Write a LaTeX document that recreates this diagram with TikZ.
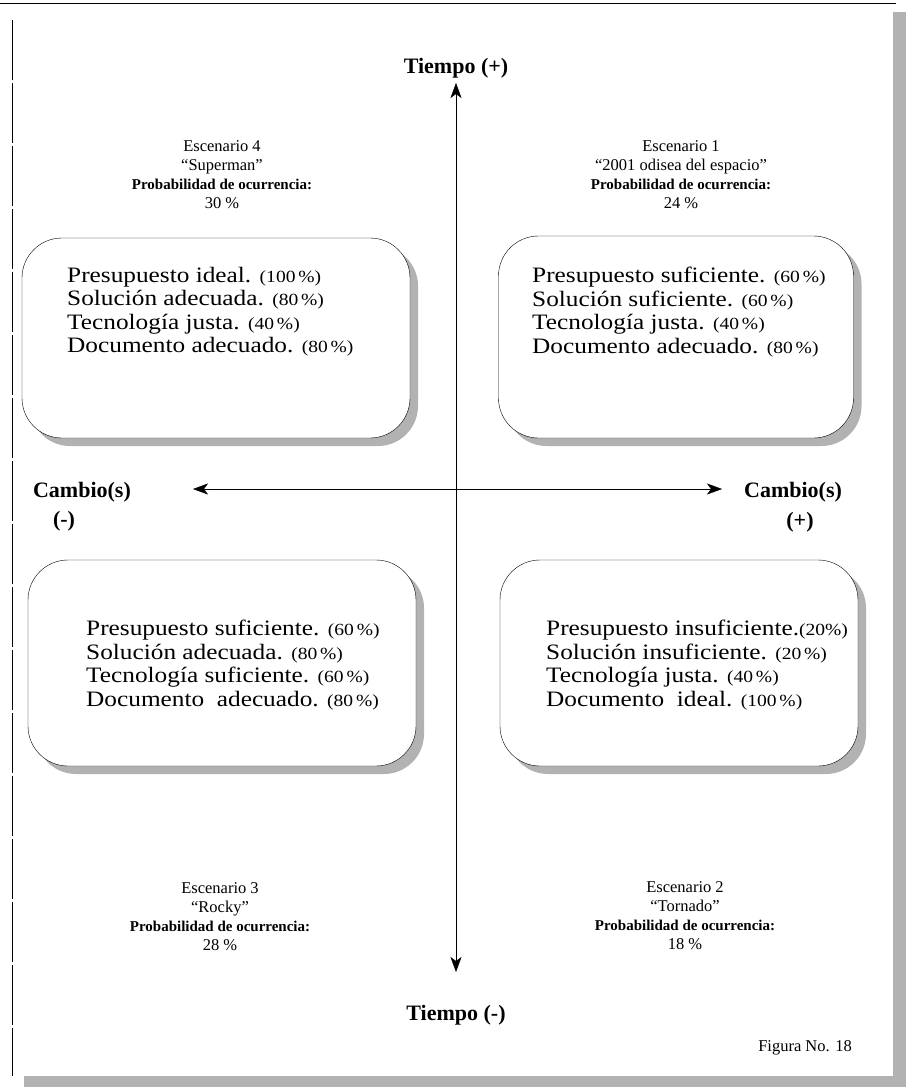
\documentclass[tikz,border=0pt]{standalone}
\usepackage{fontspec}
\setmainfont{Liberation Serif}
\newfontfamily\widefont[FakeStretch=1.15]{Liberation Serif}
\usetikzlibrary{positioning,arrows.meta,shadows}

\begin{document}
\begin{tikzpicture}[
  x=1pt, y=-1pt,
  scen/.style={draw, thin, rounded corners=40pt, fill=white,
    drop shadow={shadow xshift=8pt, shadow yshift=-8pt, fill=gray!60, opacity=1}},
  items/.style={anchor=north west, align=left, inner sep=0pt,
    font=\widefont\fontsize{22}{23.5}\selectfont},
  head/.style={align=center, inner sep=0pt, font=\fontsize{16.5}{19}\selectfont},
  axislbl/.style={inner sep=0pt, font=\fontsize{22}{26}\selectfont\bfseries},
  axis/.style={thin, {Stealth[length=15pt,width=11pt,inset=4pt]}-{Stealth[length=15pt,width=11pt,inset=4pt]}}
]
\newcommand{\pct}[1]{{\fontsize{17}{17}\selectfont(#1\,\%)}}
\newcommand{\prob}{{\bfseries\fontsize{15}{19}\selectfont Probabilidad de ocurrencia:}}

% page with its shadow
\useasboundingbox (0,0) rectangle (910,1090);
\fill[white] (0,0) rectangle (910,1090);
\fill[gray!60] (24,12) rectangle (906,1087);
\fill[white] (12,3) rectangle (893,1076);
\draw[thin] (0,3) -- (896,3);
\draw[very thin, dash pattern=on 60pt off 3pt] (12,20) -- (12,1076);

% axes
\node[axislbl] (tup) at (456,68) {Tiempo (+)};
\node[axislbl] (tdown) at (456,1015) {Tiempo (-)};
\node[axislbl] (cminus) at (82,492) {Cambio(s)};
\node[axislbl] (cminus2) at (64,521) {(-)};
\node[axislbl] (cplus) at (793,492) {Cambio(s)};
\node[axislbl] (cplus2) at (800,522) {(+)};
\coordinate (ytop) at (456,83);
\coordinate (ybot) at (456,972);
\coordinate (xleft) at (193,489);
\coordinate (xright) at (722,489);
\draw[axis] (ybot) -- (ytop);
\draw[axis] (xleft) -- (xright);

% scenario boxes
\node[scen, minimum width=388pt, minimum height=200pt] (s4) at (216,338) {};
\node[scen, minimum width=355pt, minimum height=202pt] (s1) at (676,337) {};
\node[scen, minimum width=388pt, minimum height=206pt] (s3) at (222,663) {};
\node[scen, minimum width=358pt, minimum height=206pt] (s2) at (679,663) {};

\node[items] (l4) at (67,267) {Presupuesto ideal. \pct{100}\\Solución adecuada. \pct{80}\\Tecnología justa. \pct{40}\\Documento adecuado. \pct{80}};
\node[items] (l1) at (532,267) {Presupuesto suficiente. \pct{60}\\Solución suficiente. \pct{60}\\Tecnología justa. \pct{40}\\Documento adecuado. \pct{80}};
\node[items] (l3) at (86,620) {Presupuesto suficiente. \pct{60}\\Solución adecuada. \pct{80}\\Tecnología suficiente. \pct{60}\\Documento\ \ adecuado. \pct{80}};
\node[items] (l2) at (546,620) {Presupuesto insuficiente.{\fontsize{17}{17}\selectfont(20\%)}\\Solución insuficiente. \pct{20}\\Tecnología justa. \pct{40}\\Documento\ \ ideal. \pct{100}};

% scenario headings
\node[head] (h4) at (222,175) {Escenario 4\\“Superman”\\\prob\\30 \%};
\node[head] (h1) at (681,175) {Escenario 1\\“2001 odisea del espacio”\\\prob\\24 \%};
\node[head] (h3) at (220,917) {Escenario 3\\“Rocky”\\\prob\\28 \%};
\node[head] (h2) at (685,916) {Escenario 2\\“Tornado”\\\prob\\18 \%};

\node[head] (fig) at (805,1048) {Figura No. 18};
\end{tikzpicture}
\end{document}
